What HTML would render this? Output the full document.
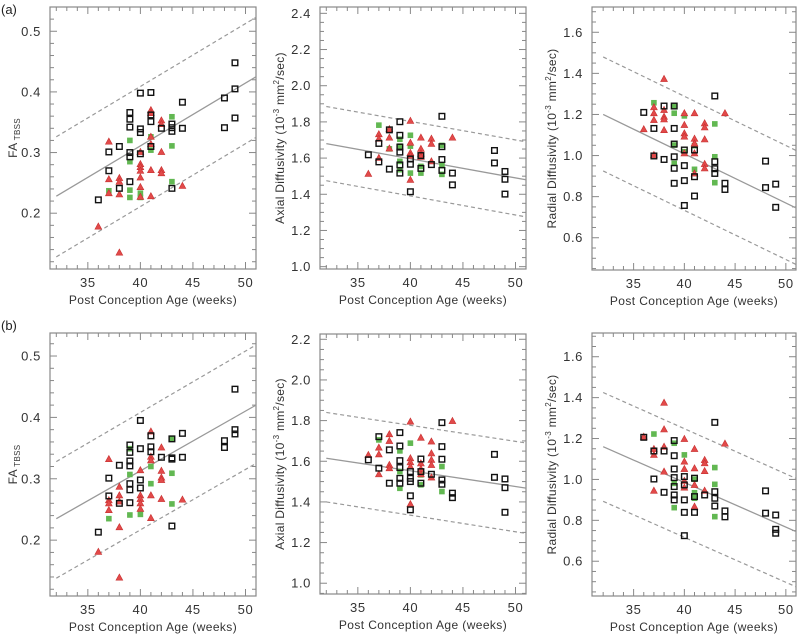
<!DOCTYPE html>
<html><head><meta charset="utf-8"><style>
html,body{margin:0;padding:0;background:#fff;}
svg{display:block;font-family:"Liberation Sans",sans-serif;}
</style></head><body>
<svg id="fig" width="800" height="637" viewBox="0 0 800 637" xmlns="http://www.w3.org/2000/svg">
<text x="1" y="14" font-size="13" fill="#222">(a)</text>
<text x="1" y="330" font-size="13" fill="#222">(b)</text>
</svg>
<script>
// ---- data: [age, value] ----
const aFaBlack=[[36,.222],[37,.301],[37,.270],[38,.310],[38,.241],[39,.366],[39,.355],[39,.342],[39,.300],[39,.293],[39,.252],[40,.398],[40,.339],[40,.333],[40,.298],[41,.399],[41,.362],[41,.351],[41,.310],[42,.340],[43,.347],[43,.341],[43,.335],[43,.241],[44,.383],[44,.340],[48,.390],[48,.341],[49,.448],[49,.405],[49,.357]];
const aFaRed=[[36,.178],[37,.318],[37,.256],[37,.233],[38,.258],[38,.252],[38,.231],[38,.135],[40,.301],[40,.281],[40,.276],[40,.270],[40,.259],[40,.243],[40,.227],[41,.370],[41,.365],[41,.326],[41,.314],[41,.271],[41,.228],[42,.353],[42,.347],[42,.301],[42,.271],[42,.266],[44,.245]];
const aFaGreen=[[37,.237],[39,.320],[39,.285],[39,.238],[39,.226],[40,.233],[40,.226],[41,.326],[41,.304],[43,.359],[43,.311],[43,.252]];
const aFaLines=[[0.228,0.425],[0.326,0.523],[0.128,0.325]];

const aAdBlack=[[36,1.618],[37,1.681],[37,1.579],[38,1.756],[38,1.539],[39,1.801],[39,1.726],[39,1.661],[39,1.633],[39,1.562],[39,1.517],[40,1.595],[40,1.566],[40,1.414],[41,1.614],[41,1.543],[42,1.564],[43,1.831],[43,1.663],[43,1.592],[43,1.532],[44,1.517],[44,1.452],[48,1.642],[48,1.573],[49,1.526],[49,1.483],[49,1.401]];
const aAdRed=[[36,1.513],[37,1.732],[37,1.707],[37,1.601],[38,1.760],[38,1.713],[38,1.653],[40,1.806],[40,1.685],[40,1.629],[40,1.614],[40,1.480],[41,1.713],[41,1.651],[41,1.625],[41,1.607],[42,1.707],[42,1.679],[42,1.582],[44,1.713]];
const aAdGreen=[[37,1.782],[38,1.651],[39,1.704],[39,1.666],[39,1.582],[39,1.536],[40,1.726],[40,1.666],[40,1.517],[41,1.554],[41,1.517],[43,1.670],[43,1.558],[43,1.510]];
const aAdLines=[[1.68,1.48],[1.885,1.69],[1.475,1.275]];

const aRdBlack=[[36,1.210],[37,1.132],[37,0.998],[38,1.241],[38,0.981],[39,1.241],[39,1.132],[39,1.056],[39,0.994],[39,0.938],[39,0.865],[40,1.027],[40,0.951],[40,0.878],[40,0.757],[41,1.027],[41,0.897],[41,0.803],[43,1.290],[43,0.970],[43,0.936],[43,0.913],[44,0.865],[44,0.835],[48,0.973],[48,0.844],[49,0.861],[49,0.748]];
const aRdRed=[[36,1.128],[37,1.235],[37,1.206],[37,1.173],[37,1.003],[38,1.373],[38,1.222],[38,1.189],[38,1.176],[38,1.124],[40,1.206],[40,1.149],[40,1.108],[40,1.092],[40,1.011],[41,1.206],[41,1.082],[41,1.059],[41,1.011],[41,0.913],[42,1.157],[42,1.137],[42,1.079],[42,0.959],[42,0.938],[44,1.206]];
const aRdGreen=[[37,1.257],[39,1.238],[39,1.206],[39,1.051],[39,0.962],[40,1.193],[40,1.019],[41,1.048],[41,0.933],[43,1.154],[43,0.994],[43,0.868]];
const aRdLines=[[1.2,0.745],[1.48,1.025],[0.925,0.47]];

const bFaBlack=[[36,.213],[37,.301],[37,.272],[38,.322],[38,.260],[39,.355],[39,.343],[39,.329],[39,.321],[39,.292],[39,.282],[39,.261],[40,.395],[40,.349],[40,.298],[40,.285],[41,.370],[41,.352],[41,.344],[42,.335],[43,.365],[43,.334],[43,.332],[43,.223],[44,.374],[44,.335],[48,.362],[48,.351],[49,.446],[49,.380],[49,.373]];
const bFaRed=[[36,.181],[37,.332],[37,.265],[37,.260],[37,.249],[38,.287],[38,.273],[38,.263],[38,.221],[38,.139],[40,.314],[40,.273],[40,.267],[40,.260],[40,.251],[41,.377],[41,.336],[41,.330],[41,.273],[41,.236],[42,.351],[42,.313],[42,.302],[42,.298],[42,.267],[44,.266]];
const bFaGreen=[[37,.235],[39,.349],[39,.307],[39,.241],[40,.242],[41,.320],[41,.292],[43,.366],[43,.309],[43,.259]];
const bFaLines=[[0.235,0.42],[0.328,0.518],[0.138,0.325]];

const bAdBlack=[[36,1.607],[37,1.721],[37,1.566],[38,1.656],[38,1.492],[39,1.741],[39,1.675],[39,1.603],[39,1.569],[39,1.516],[39,1.492],[40,1.549],[40,1.516],[40,1.500],[40,1.430],[40,1.361],[41,1.611],[41,1.549],[41,1.492],[42,1.536],[43,1.790],[43,1.672],[43,1.610],[43,1.508],[43,1.487],[44,1.443],[44,1.421],[48,1.634],[48,1.521],[49,1.513],[49,1.470],[49,1.349]];
const bAdRed=[[36,1.631],[37,1.667],[37,1.634],[37,1.536],[38,1.733],[38,1.700],[38,1.582],[38,1.566],[40,1.795],[40,1.615],[40,1.595],[40,1.574],[40,1.389],[41,1.716],[41,1.590],[41,1.562],[41,1.536],[42,1.697],[42,1.639],[42,1.607],[42,1.582],[42,1.520],[44,1.798]];
const bAdGreen=[[37,1.705],[39,1.651],[39,1.549],[39,1.467],[40,1.689],[41,1.533],[41,1.484],[43,1.574],[43,1.451]];
const bAdLines=[[1.615,1.468],[1.84,1.69],[1.40,1.245]];

const bRdBlack=[[36,1.206],[37,1.002],[37,1.139],[38,1.139],[38,0.937],[39,1.190],[39,1.116],[39,1.051],[39,1.009],[39,0.965],[39,0.924],[39,0.900],[40,1.014],[40,0.973],[40,0.900],[40,0.839],[40,0.725],[41,1.006],[41,0.916],[41,0.839],[42,0.924],[43,1.279],[43,0.940],[43,0.908],[43,0.870],[44,0.846],[44,0.817],[48,0.944],[48,0.835],[49,0.826],[49,0.756],[49,0.737]];
const bRdRed=[[36,1.209],[37,1.149],[37,1.120],[37,0.945],[38,1.375],[38,1.245],[38,1.160],[38,1.038],[40,1.198],[40,1.087],[40,1.051],[40,0.993],[40,0.960],[41,1.149],[41,1.054],[41,0.973],[41,0.867],[42,1.095],[42,1.079],[42,1.041],[42,0.945],[44,1.175]];
const bRdGreen=[[37,1.222],[39,1.177],[39,0.981],[39,0.862],[40,1.120],[41,1.001],[41,0.935],[41,0.908],[43,1.058],[43,0.976],[43,0.818]];
const bRdLines=[[1.16,0.745],[1.425,1.005],[0.893,0.475]];

const xTickLabels=[35,40,45,50];
const faTicks=[0.2,0.3,0.4,0.5];
const adTicksA=[1.0,1.2,1.4,1.6,1.8,2.0,2.2,2.4];
const adTicksB=[1.0,1.2,1.4,1.6,1.8,2.0,2.2];
const rdTicks=[0.6,0.8,1.0,1.2,1.4,1.6];

const NS="http://www.w3.org/2000/svg";
const svg=document.getElementById('fig');
function mk(tag,attrs,parent){const e=document.createElementNS(NS,tag);for(const k in attrs)e.setAttribute(k,attrs[k]);(parent||svg).appendChild(e);return e;}

const panels=[
 {id:'a-fa',L:50,R:256,T:7,B:269,x0:31.4,x1:51,y0:0.108,y1:0.540,ticks:faTicks,dec:1,minor:0.02,yl:'fa',black:aFaBlack,red:aFaRed,green:aFaGreen,lines:aFaLines},
 {id:'a-ad',L:320,R:526,T:7,B:269,x0:31.4,x1:51,y0:0.987,y1:2.435,ticks:adTicksA,dec:1,minor:0.05,yl:'Axial',black:aAdBlack,red:aAdRed,green:aAdGreen,lines:aAdLines},
 {id:'a-rd',L:592,R:796,T:7,B:270,x0:30.9,x1:51,y0:0.443,y1:1.723,ticks:rdTicks,dec:1,minor:0.05,yl:'Radial',black:aRdBlack,red:aRdRed,green:aRdGreen,lines:aRdLines},
 {id:'b-fa',L:50,R:256,T:333,B:596,x0:31.4,x1:51,y0:0.109,y1:0.5375,ticks:faTicks,dec:1,minor:0.02,yl:'fa',black:bFaBlack,red:bFaRed,green:bFaGreen,lines:bFaLines},
 {id:'b-ad',L:320,R:526,T:334,B:594,x0:31.4,x1:51,y0:0.947,y1:2.226,ticks:adTicksB,dec:1,minor:0.05,yl:'Axial',black:bAdBlack,red:bAdRed,green:bAdGreen,lines:bAdLines},
 {id:'b-rd',L:592,R:796,T:333,B:596,x0:30.9,x1:51,y0:0.43,y1:1.716,ticks:rdTicks,dec:1,minor:0.05,yl:'Radial',black:bRdBlack,red:bRdRed,green:bRdGreen,lines:bRdLines}
];

panels.forEach(p=>{
 const g=mk('g',{});
 
 
 const sx=v=>p.L+(v-p.x0)/(p.x1-p.x0)*(p.R-p.L);
 const sy=v=>p.B-(v-p.y0)/(p.y1-p.y0)*(p.B-p.T);
 const fr=mk('rect',{x:p.L,y:p.T,width:p.R-p.L,height:p.B-p.T,fill:'none',stroke:'#888','stroke-width':1.2},g);
 
 
 for(let w=32;w<=51;w++){
  const major=w%5===0, len=major?7:4, X=sx(w);
  mk('line',{x1:X,x2:X,y1:p.B,y2:p.B-len,stroke:'#888','stroke-width':1},g);
  mk('line',{x1:X,x2:X,y1:p.T,y2:p.T+len,stroke:'#888','stroke-width':1},g);
 }
 xTickLabels.forEach(v=>{
  const t=mk('text',{x:sx(v),y:p.B+18,'font-size':13,fill:'#333','text-anchor':'middle','letter-spacing':0.6},g);
  t.textContent=v;
  
  
 });
 const xt=mk('text',{x:(p.L+p.R)/2,y:p.B+35,'font-size':12,fill:'#333','text-anchor':'middle','letter-spacing':0.4},g);
 xt.textContent='Post Conception Age (weeks)';
 
 
 const start=Math.ceil(p.y0/p.minor-1e-6);
 for(let k=start;k*p.minor<=p.y1+1e-9;k++){
  const v=k*p.minor;
  const major=p.ticks.some(t=>Math.abs(t-v)<1e-6);
  const len=major?7:4,Y=sy(v);
  mk('line',{x1:p.L,x2:p.L+len,y1:Y,y2:Y,stroke:'#888','stroke-width':1},g);
  mk('line',{x1:p.R,x2:p.R-len,y1:Y,y2:Y,stroke:'#888','stroke-width':1},g);
 }
 p.ticks.forEach(v=>{
  const t=mk('text',{x:p.L-9,y:sy(v)+4.5,'font-size':13,fill:'#333','text-anchor':'end','letter-spacing':0.6},g);
  t.textContent=v.toFixed(p.dec);
  
  
 });
 const cy=(p.T+p.B)/2, tx=p.L-36;
 const yt=mk('text',{x:tx,y:cy,'font-size':12,fill:'#333','text-anchor':'middle','letter-spacing':0.3,transform:`rotate(-90 ${tx} ${cy})`},g);
 
 
 if(p.yl==='fa'){
  yt.setAttribute('x',tx+3);
  yt.setAttribute('transform',`rotate(-90 ${tx+3} ${cy})`);
  yt.innerHTML='FA<tspan font-size="8" dy="3"> TBSS</tspan>';
 } else {
  yt.innerHTML=p.yl+' Diffusivity (10<tspan font-size="8" dy="-5">-3</tspan><tspan dy="5"> mm</tspan><tspan font-size="8" dy="-5">2</tspan><tspan dy="5">/sec)</tspan>';
 }
 const styles=[{d:'',w:1.3},{d:'4,3',w:1.2},{d:'4,3',w:1.2}];
 const names=['regression-line','upper-bound-line','lower-bound-line'];
 p.lines.forEach((ln,i)=>{
  const l=mk('line',{x1:sx(32),y1:sy(ln[0]),x2:sx(51),y2:sy(ln[1]),stroke:'#999','stroke-width':styles[i].w,'stroke-dasharray':styles[i].d},g);
  
  
 });
 p.green.forEach(d=>{
  const r=mk('rect',{x:sx(d[0])-2.8,y:sy(d[1])-2.8,width:5.6,height:5.6,fill:'#62b852'},g);
  
  
 });
 p.red.forEach(d=>{
  const X=sx(d[0]),Y=sy(d[1]);
  const t=mk('polygon',{points:`${X},${Y-3.6} ${X-3.4},${Y+2.6} ${X+3.4},${Y+2.6}`,fill:'#e24a4a',stroke:'#c83030','stroke-width':0.6},g);
  
  
 });
 p.black.forEach(d=>{
  const r=mk('rect',{x:sx(d[0])-2.8,y:sy(d[1])-2.8,width:5.6,height:5.6,fill:'none',stroke:'#111','stroke-width':1.4},g);
  
  
 });
});
</script>
</body></html>
